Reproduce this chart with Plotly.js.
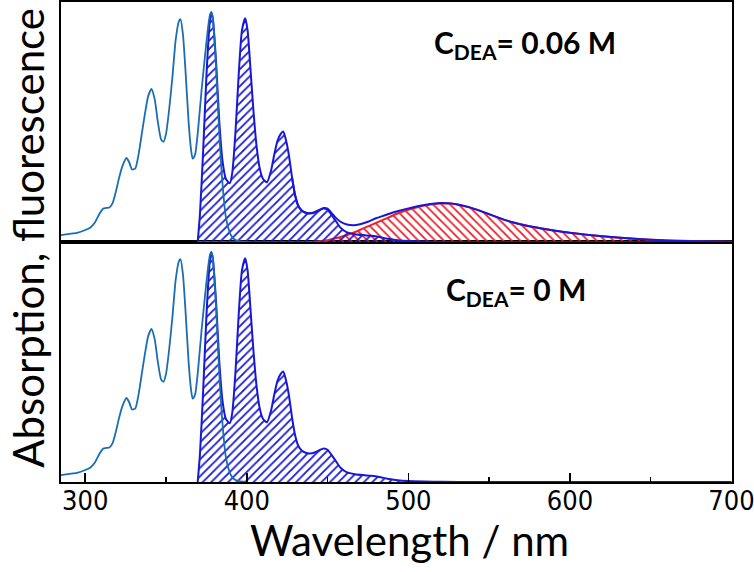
<!DOCTYPE html>
<html>
<head>
<meta charset="utf-8">
<script src="https://cdn.plot.ly/plotly-3.0.1.min.js"></script>
<style>
  body { margin: 0; background: #fff; }
  #chart { width: 754px; height: 572px; }
</style>
</head>
<body>
<div id="chart"></div>
<script>
// absorption spectrum (normalised), same in both panels
var absWl = [285, 290, 295, 300, 303, 306, 309, 311, 313, 315, 317, 319, 321, 323, 325.5, 327, 329, 331, 333, 335,
             337, 339, 341, 343, 345, 347, 348.5, 350, 352, 354, 356, 358, 359, 360.5, 362, 364, 365.5, 366.5, 368, 370,
             372, 374, 376, 377.5, 378.5, 379.5, 381, 383, 385, 387, 389, 391, 394, 400];
var absVal = [0.03, 0.035, 0.04, 0.052, 0.062, 0.085, 0.125, 0.145, 0.148, 0.15, 0.17, 0.22, 0.28, 0.33, 0.365, 0.35, 0.315, 0.32, 0.38, 0.47,
              0.56, 0.635, 0.665, 0.62, 0.52, 0.445, 0.436, 0.47, 0.58, 0.72, 0.88, 0.96, 0.968, 0.9, 0.75, 0.52, 0.4, 0.362, 0.38, 0.5,
              0.66, 0.8, 0.93, 0.995, 0.99, 0.93, 0.76, 0.47, 0.25, 0.11, 0.05, 0.02, 0.005, 0];

// locally excited fluorescence (blue hatched)
var leWl = [369.6, 371, 373, 375, 377, 378, 379, 381, 383, 385, 387, 389.5, 391, 393, 395, 397, 399, 400.5, 402, 404,
            406, 408, 410, 412.5, 415, 417, 419, 421, 422.5, 424, 426, 428, 430, 432, 434, 436, 439, 442, 445, 447.5,
            450, 452, 455, 458, 462, 467, 472, 477, 482, 487, 492, 500, 510, 520, 540, 700];
var leVal = [0, 0.12, 0.4, 0.72, 0.95, 1.0, 0.97, 0.78, 0.52, 0.35, 0.275, 0.255, 0.3, 0.48, 0.73, 0.92, 0.972, 0.92, 0.78, 0.58,
             0.42, 0.32, 0.275, 0.26, 0.31, 0.38, 0.44, 0.47, 0.48, 0.45, 0.38, 0.28, 0.2, 0.155, 0.137, 0.128, 0.124, 0.128, 0.138, 0.146,
             0.14, 0.122, 0.092, 0.062, 0.042, 0.034, 0.03, 0.027, 0.022, 0.014, 0.009, 0.004, 0.002, 0.001, 0, 0];

// exciplex band, C_DEA = 0.06 M (red hatched)
var exWl = [370, 440, 445, 450, 455, 460, 465, 470, 475, 480, 485, 490, 495, 500, 505, 510, 515, 520, 525, 530,
            535, 540, 545, 550, 555, 560, 565, 570, 575, 580, 585, 590, 600, 610, 620, 630, 640, 650, 660, 670,
            680, 690, 700];
var exVal = [0, 0, 0.003, 0.008, 0.016, 0.026, 0.038, 0.052, 0.068, 0.083, 0.098, 0.114, 0.128, 0.14, 0.15, 0.158, 0.164, 0.167, 0.167, 0.163,
             0.155, 0.145, 0.133, 0.12, 0.107, 0.095, 0.085, 0.076, 0.068, 0.062, 0.056, 0.05, 0.04, 0.032, 0.025, 0.019, 0.014, 0.01, 0.007, 0.005,
             0.003, 0.002, 0.001];

// total emission envelope, C_DEA = 0.06 M
var totWl = [428, 430, 432, 434, 436, 439, 442, 445, 447.5, 450, 452, 455, 458, 462, 466, 470, 475, 480, 485, 490,
             495, 500, 505, 510, 515, 520, 525, 530, 535, 540, 545, 550, 555, 560, 565, 570, 580, 590, 600, 620,
             640, 660, 680, 700];
var totVal = [0.28, 0.2, 0.155, 0.137, 0.128, 0.125, 0.13, 0.14, 0.148, 0.145, 0.13, 0.106, 0.088, 0.076, 0.073, 0.077, 0.088, 0.103, 0.115, 0.127,
              0.137, 0.146, 0.154, 0.161, 0.166, 0.169, 0.168, 0.164, 0.156, 0.146, 0.134, 0.121, 0.108, 0.095, 0.085, 0.076, 0.062, 0.05, 0.04, 0.025,
              0.014, 0.007, 0.003, 0.001];

var xTicks = [300, 400, 500, 600, 700];

var absColor = '#1b6db3';
var fluColor = '#1818d4';
var exColor = '#e8202a';
var sm = {shape: 'spline', smoothing: 0.6};

function leTrace(yax) {
  return {
    x: leWl, y: leVal, xaxis: yax === 'y2' ? 'x2' : 'x', yaxis: yax,
    type: 'scatter', mode: 'lines', fill: 'tozeroy', fillcolor: 'rgba(0,0,0,0)',
    fillpattern: {shape: '/', fgcolor: fluColor, bgcolor: 'rgba(0,0,0,0)', size: 6, solidity: 0.3},
    line: Object.assign({color: fluColor, width: 2}, sm), hoverinfo: 'skip'
  };
}
function absTrace(yax) {
  return {
    x: absWl, y: absVal, xaxis: yax === 'y2' ? 'x2' : 'x', yaxis: yax,
    type: 'scatter', mode: 'lines',
    line: Object.assign({color: absColor, width: 1.8}, sm), hoverinfo: 'skip'
  };
}

var exTrace = {
  x: exWl, y: exVal, xaxis: 'x2', yaxis: 'y2',
  type: 'scatter', mode: 'lines', fill: 'tozeroy', fillcolor: 'rgba(0,0,0,0)',
  fillpattern: {shape: '\\', fgcolor: exColor, bgcolor: 'rgba(0,0,0,0)', size: 6, solidity: 0.3},
  line: Object.assign({color: exColor, width: 2}, sm), hoverinfo: 'skip'
};
var totTrace = {
  x: totWl, y: totVal, xaxis: 'x2', yaxis: 'y2',
  type: 'scatter', mode: 'lines',
  line: Object.assign({color: fluColor, width: 2}, sm), hoverinfo: 'skip'
};

var data = [leTrace('y'), absTrace('y'), exTrace, leTrace('y2'), totTrace, absTrace('y2')];

var yBase = {
  range: [0, 1.043], showline: true, mirror: true, linecolor: '#000', linewidth: 2,
  ticks: '', showticklabels: false, showgrid: false, zeroline: false
};

var layout = {
  width: 754, height: 572,
  margin: {l: 61, r: 22, t: 2, b: 90},
  paper_bgcolor: '#fff', plot_bgcolor: '#fff',
  showlegend: false,
  xaxis: {
    range: [285, 700.3], anchor: 'y', showline: true, mirror: true, linecolor: '#000', linewidth: 2,
    tickmode: 'array', tickvals: xTicks, ticktext: xTicks.map(String),
    ticks: 'inside', ticklen: 9, tickwidth: 1.5, tickcolor: '#000',
    minor: {dtick: 50, tick0: 300, ticks: 'inside', ticklen: 5, tickwidth: 1.5, tickcolor: '#000', showgrid: false},
    tickfont: {family: 'Liberation Sans Narrow, DejaVu Sans Condensed, Liberation Sans, sans-serif', size: 27, color: '#000'},
    ticklabeloverflow: 'allow', ticklabelstandoff: -6,
    showgrid: false, zeroline: false
  },
  xaxis2: {
    range: [285, 700.3], matches: 'x', anchor: 'y2', showline: true, mirror: true, linecolor: '#000', linewidth: 2,
    ticks: '', showticklabels: false, showgrid: false, zeroline: false
  },
  yaxis: Object.assign({domain: [0, 0.5]}, yBase),
  yaxis2: Object.assign({domain: [0.5, 1]}, yBase),
  annotations: [
    {text: 'Wavelength / nm', xref: 'paper', yref: 'paper', x: 0.52, y: -0.121,
     xanchor: 'center', yanchor: 'middle', showarrow: false,
     font: {family: 'Lato, Open Sans, sans-serif', size: 42, color: '#000'}},
    {text: 'Absorption, fluorescence', xref: 'paper', yref: 'paper', x: -0.049, y: 0.509, textangle: -90,
     xanchor: 'center', yanchor: 'middle', showarrow: false,
     font: {family: 'Lato, Open Sans, sans-serif', size: 42, color: '#000'}},
    {text: '<b>C<sub>DEA</sub>= 0.06 M</b>', xref: 'paper', yref: 'paper', x: 0.6915, y: 0.9125,
     xanchor: 'center', yanchor: 'middle', showarrow: false,
     font: {family: 'Lato, Open Sans, sans-serif', size: 30, color: '#000'}},
    {text: '<b>C<sub>DEA</sub>= 0 M</b>', xref: 'paper', yref: 'paper', x: 0.678, y: 0.398,
     xanchor: 'center', yanchor: 'middle', showarrow: false,
     font: {family: 'Lato, Open Sans, sans-serif', size: 30, color: '#000'}}
  ]
};

Plotly.newPlot('chart', data, layout, {staticPlot: true});
</script>
</body>
</html>
